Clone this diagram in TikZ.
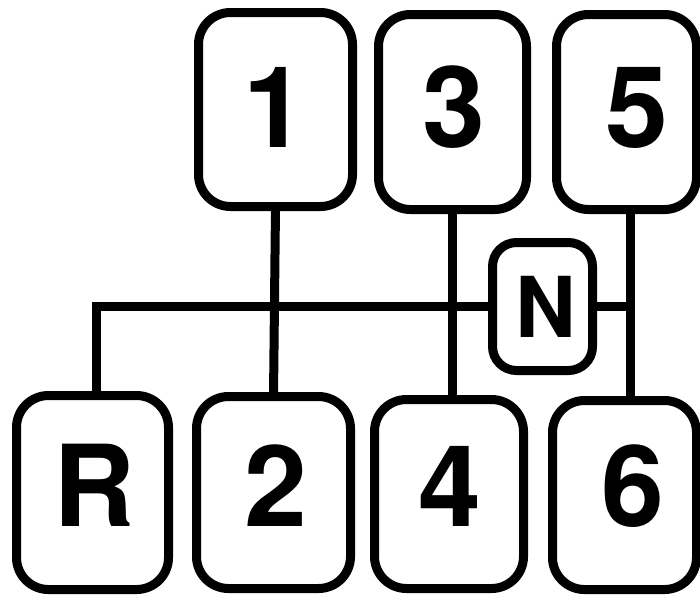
\documentclass[tikz,border=0pt]{standalone}
\usepackage{fontspec}
\setmainfont{TeX Gyre Heros}
\begin{document}
\begin{tikzpicture}[x=1pt,y=-1pt,
  gearbox/.style={draw=black,line width=9pt,fill=white,rounded corners=32pt,inner sep=0pt,outer sep=0pt},
  nbox/.style={draw=black,line width=9pt,fill=white,rounded corners=24pt,inner sep=0pt,outer sep=0pt},
  digit/.style={anchor=base,inner sep=0pt,font=\fontsize{113}{113}\selectfont\bfseries},
  nlabel/.style={anchor=base,inner sep=0pt,font=\fontsize{84}{84}\selectfont\bfseries},
  link/.style={draw=black,line width=9pt}]
\useasboundingbox (0,0) rectangle (700,595);
% boxes (drawn as shapes, connectors added behind)
\begin{scope}[on background layer/.try]
\end{scope}
\node[gearbox,minimum width=154pt,minimum height=194pt] (b1) at (275.5,109.5) {};
\node[gearbox,minimum width=148pt,minimum height=195pt] (b3) at (452.5,112) {};
\node[gearbox,minimum width=140pt,minimum height=195pt] (b5) at (626.5,112) {};
\node[gearbox,minimum width=152pt,minimum height=194pt] (bR) at (92.5,492.5) {};
\node[gearbox,minimum width=154pt,minimum height=192pt] (b2) at (273.5,492.5) {};
\node[gearbox,minimum width=149pt,minimum height=189pt] (b4) at (449,494) {};
\node[gearbox,minimum width=144pt,minimum height=189pt] (b6) at (624.5,495) {};
\node[nbox,minimum width=100pt,minimum height=128pt] (N) at (542.5,306.5) {};
% connectors
\draw[link] (b1.south) -- (b2.north);
\draw[link] (b3.south) -- (b3.south |- b4.north);
\coordinate (c5) at ([xshift=3.5pt]b5.south);
\coordinate (c6) at (c5 |- b6.north);
\draw[link] (c5) -- (c6);
\draw[link] (N.west) -| ([xshift=3.5pt]bR.north);
\draw[link] (N.east) -- (N.east -| c5);
% labels
\node[digit] (t1) at (275,147) {1};
\node[digit] (t3) at (454,147) {3};
\node[digit] (t5) at (637,147) {5};
\node[digit] (tR) at (94,526) {R};
\node[digit] (t2) at (275.5,526) {2};
\node[digit] (t4) at (450,526) {4};
\node[digit] (t6) at (633,526) {6};
\node[nlabel] (tN) at (546,337) {N};
\end{tikzpicture}
\end{document}
